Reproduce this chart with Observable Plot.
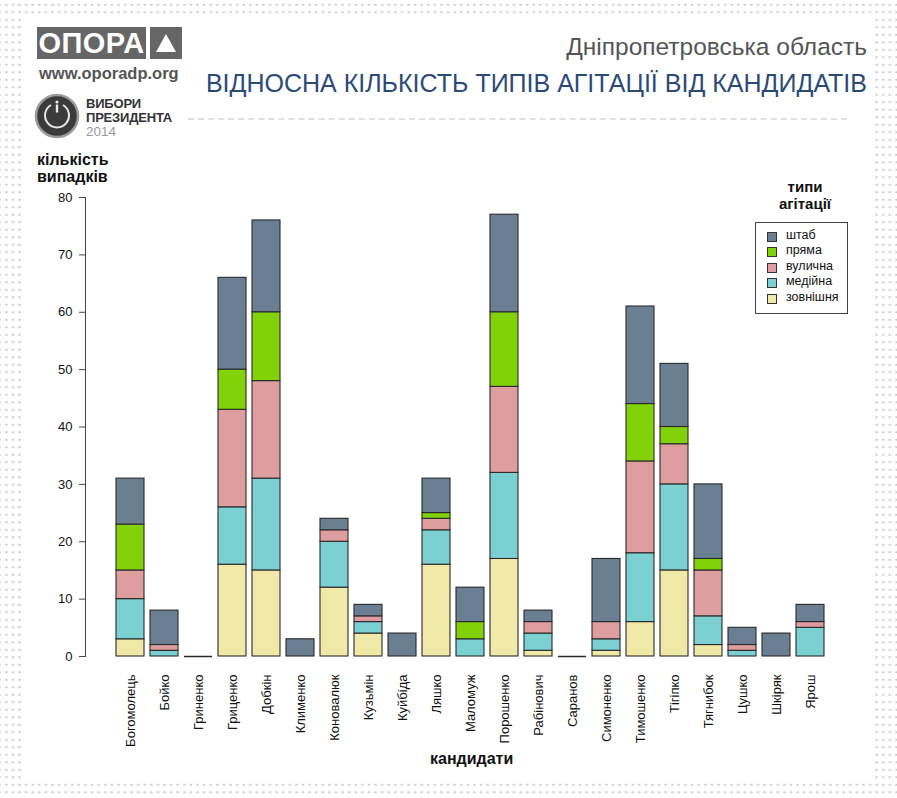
<!DOCTYPE html>
<html>
<head>
<meta charset="utf-8">
<script src="https://cdn.jsdelivr.net/npm/d3@7"></script>
<script src="https://cdn.jsdelivr.net/npm/@observablehq/plot@0.6"></script>
<style>
  html, body { margin: 0; padding: 0; background: #fff; }
  #page { position: relative; width: 897px; height: 798px; overflow: hidden; font-family: "Liberation Sans", Arial, sans-serif; background: #fff; }
  .dots { position: absolute; left: 0; top: 0; width: 897px; height: 798px;
    background-image: radial-gradient(circle, #c9c9c9 0.9px, rgba(255,255,255,0) 1.4px);
    background-size: 6.6px 7.5px; background-position: 3px 1px; }
  .inner { position: absolute; left: 23px; top: 16px; width: 851px; height: 765px; background: #fff; }
  .abs { position: absolute; white-space: nowrap; }
  #chart { position: absolute; left: 0; top: 0; }
</style>
</head>
<body>
<div id="page">
  <div class="dots"></div>
  <div class="inner"></div>
  <div id="chart"></div>
</div>
<script>
// ---- data ----
const candidates = ["Богомолець","Бойко","Гриненко","Гриценко","Добкін","Клименко","Коновалюк","Кузьмін","Куйбіда","Ляшко","Маломуж","Порошенко","Рабінович","Саранов","Симоненко","Тимошенко","Тігіпко","Тягнибок","Цушко","Шкіряк","Ярош"];
const types = ["зовнішня","медійна","вулична","пряма","штаб"]; // bottom to top
const zovnishnia = [3,0,0,16,15,0,12,4,0,16,0,17,1,0,1,6,15,2,0,0,0];
const mediina    = [7,1,0,10,16,0,8,2,0,6,3,15,3,0,2,12,15,5,1,0,5];
const vulychna   = [5,1,0,17,17,0,2,1,0,2,0,15,2,0,3,16,7,8,1,0,1];
const priama     = [8,0,0,7,12,0,0,0,0,1,3,13,0,0,0,10,3,2,0,0,0];
const shtab      = [8,6,0,16,16,3,2,2,4,6,6,17,2,0,11,17,11,13,3,4,3];
const yTicks = [0,10,20,30,40,50,60,70,80];
const typeColors = ["#f1e9a8","#7bd1d1","#de9d9e","#82d20a","#6a7f92"];

const series = [zovnishnia, mediina, vulychna, priama, shtab];
const rows = [];
candidates.forEach((c, i) => {
  types.forEach((t, j) => {
    if (series[j][i] > 0) rows.push({candidate: c, type: t, value: series[j][i]});
  });
});
const totals = candidates.map((c, i) => ({candidate: c, total: series.reduce((s, a) => s + a[i], 0)}));
const zeroRows = totals.filter(d => d.total === 0);

const font = "'Liberation Sans', Arial, sans-serif";

const chart = Plot.plot({
  width: 897,
  height: 798,
  marginTop: 197,
  marginBottom: 142,
  marginLeft: 85,
  marginRight: 41.6,
  style: {fontFamily: font, background: "transparent", color: "#111"},
  x: {domain: candidates, paddingInner: 1/6, paddingOuter: 0.88, label: null},
  y: {domain: [0, 80], label: null},
  color: {domain: types, range: typeColors},
  marks: [
    Plot.frame({anchor: "left", stroke: "#444", strokeWidth: 1}),
    Plot.axisY({ticks: yTicks, tickSize: 6, tickPadding: 7, fontSize: 13, stroke: "#444", fill: "#111", label: null}),
    Plot.axisX({tickSize: 0, tickRotate: -90, tickPadding: 18, fontSize: 13, fill: "#111", label: null}),
    Plot.barY(rows, {x: "candidate", y: "value", fill: "type", order: types, stroke: "#2a2a2a", strokeWidth: 1.1}),
    Plot.tickY(zeroRows, {x: "candidate", y: 0, stroke: "#2a2a2a", strokeWidth: 1.5})
  ]
});
document.getElementById("chart").appendChild(chart);

// ---- header and annotations ----
const page = document.getElementById("page");
function add(html, css) {
  const d = document.createElement("div");
  d.className = "abs";
  d.innerHTML = html;
  Object.assign(d.style, css);
  page.appendChild(d);
  return d;
}

// OPORA logo
add("ОПОРА", {left: "37px", top: "27px", width: "109px", height: "32px", background: "#666", color: "#fff",
  fontWeight: "bold", fontSize: "29px", lineHeight: "32px", textAlign: "center", letterSpacing: "0.5px"});
add('<svg width="32" height="32"><polygon points="16,7 26,25 6,25" fill="#fff"/></svg>',
  {left: "150px", top: "27px", width: "32px", height: "32px", background: "#666"});
add("www.oporadp.org", {left: "39px", top: "64px", fontSize: "16.5px", fontWeight: "bold", color: "#555"});

// elections logo
add('<svg width="46" height="46"><circle cx="23" cy="23" r="21" fill="#3b3b3b" stroke="#9a9a9a" stroke-width="2.5"/>' +
  '<path d="M 17 12 A 12 12 0 1 0 29 12" fill="none" stroke="#e8e8e8" stroke-width="2"/>' +
  '<circle cx="23" cy="9" r="1.6" fill="#e8e8e8"/><rect x="21.8" y="11.5" width="2.4" height="8" fill="#e8e8e8"/></svg>',
  {left: "34px", top: "93px"});
add("ВИБОРИ", {left: "86px", top: "97px", fontSize: "13px", fontWeight: "bold", color: "#333", lineHeight: "13px", letterSpacing: "-0.2px"});
add("ПРЕЗИДЕНТА", {left: "86px", top: "111px", fontSize: "13px", fontWeight: "bold", color: "#333", lineHeight: "13px", letterSpacing: "-0.2px"});
add("2014", {left: "86px", top: "125px", fontSize: "13.5px", color: "#999", lineHeight: "13px"});

// titles
add("Дніпропетровська область", {right: "30px", top: "33px", fontSize: "24.5px", color: "#555", lineHeight: "28px"});
add("ВІДНОСНА КІЛЬКІСТЬ ТИПІВ АГІТАЦІЇ ВІД КАНДИДАТІВ", {right: "30px", top: "68px", fontSize: "25px", color: "#2b4a7a", lineHeight: "30px"});
add("", {left: "188px", top: "118px", width: "659px", height: "0px", borderTop: "2px dashed #e0e0e0"});

// axis titles
add("кількість<br>випадків", {left: "37px", top: "151px", fontSize: "16px", fontWeight: "bold", color: "#111", lineHeight: "17px"});
add("кандидати", {left: "430px", top: "750px", fontSize: "16px", fontWeight: "bold", color: "#111"});

// legend
add("типи<br>агітації", {left: "760px", top: "178px", width: "90px", textAlign: "center", fontSize: "15px", fontWeight: "bold", color: "#111", lineHeight: "17px"});
const legendOrder = types.slice().reverse();
const legendColors = typeColors.slice().reverse();
let lh = '<div style="position:relative;width:91px;height:90px;border:1px solid #444;background:#fff;">';
legendOrder.forEach((t, i) => {
  lh += '<div style="position:absolute;left:11px;top:' + (9 + i * 15.4) + 'px;width:8px;height:8px;background:' + legendColors[i] + ';border:1px solid #333;"></div>';
  lh += '<div style="position:absolute;left:30px;top:' + (5 + i * 15.4) + 'px;font-size:12.5px;line-height:15px;color:#111;">' + t + '</div>';
});
lh += '</div>';
add(lh, {left: "755px", top: "222px"});
</script>
</body>
</html>
